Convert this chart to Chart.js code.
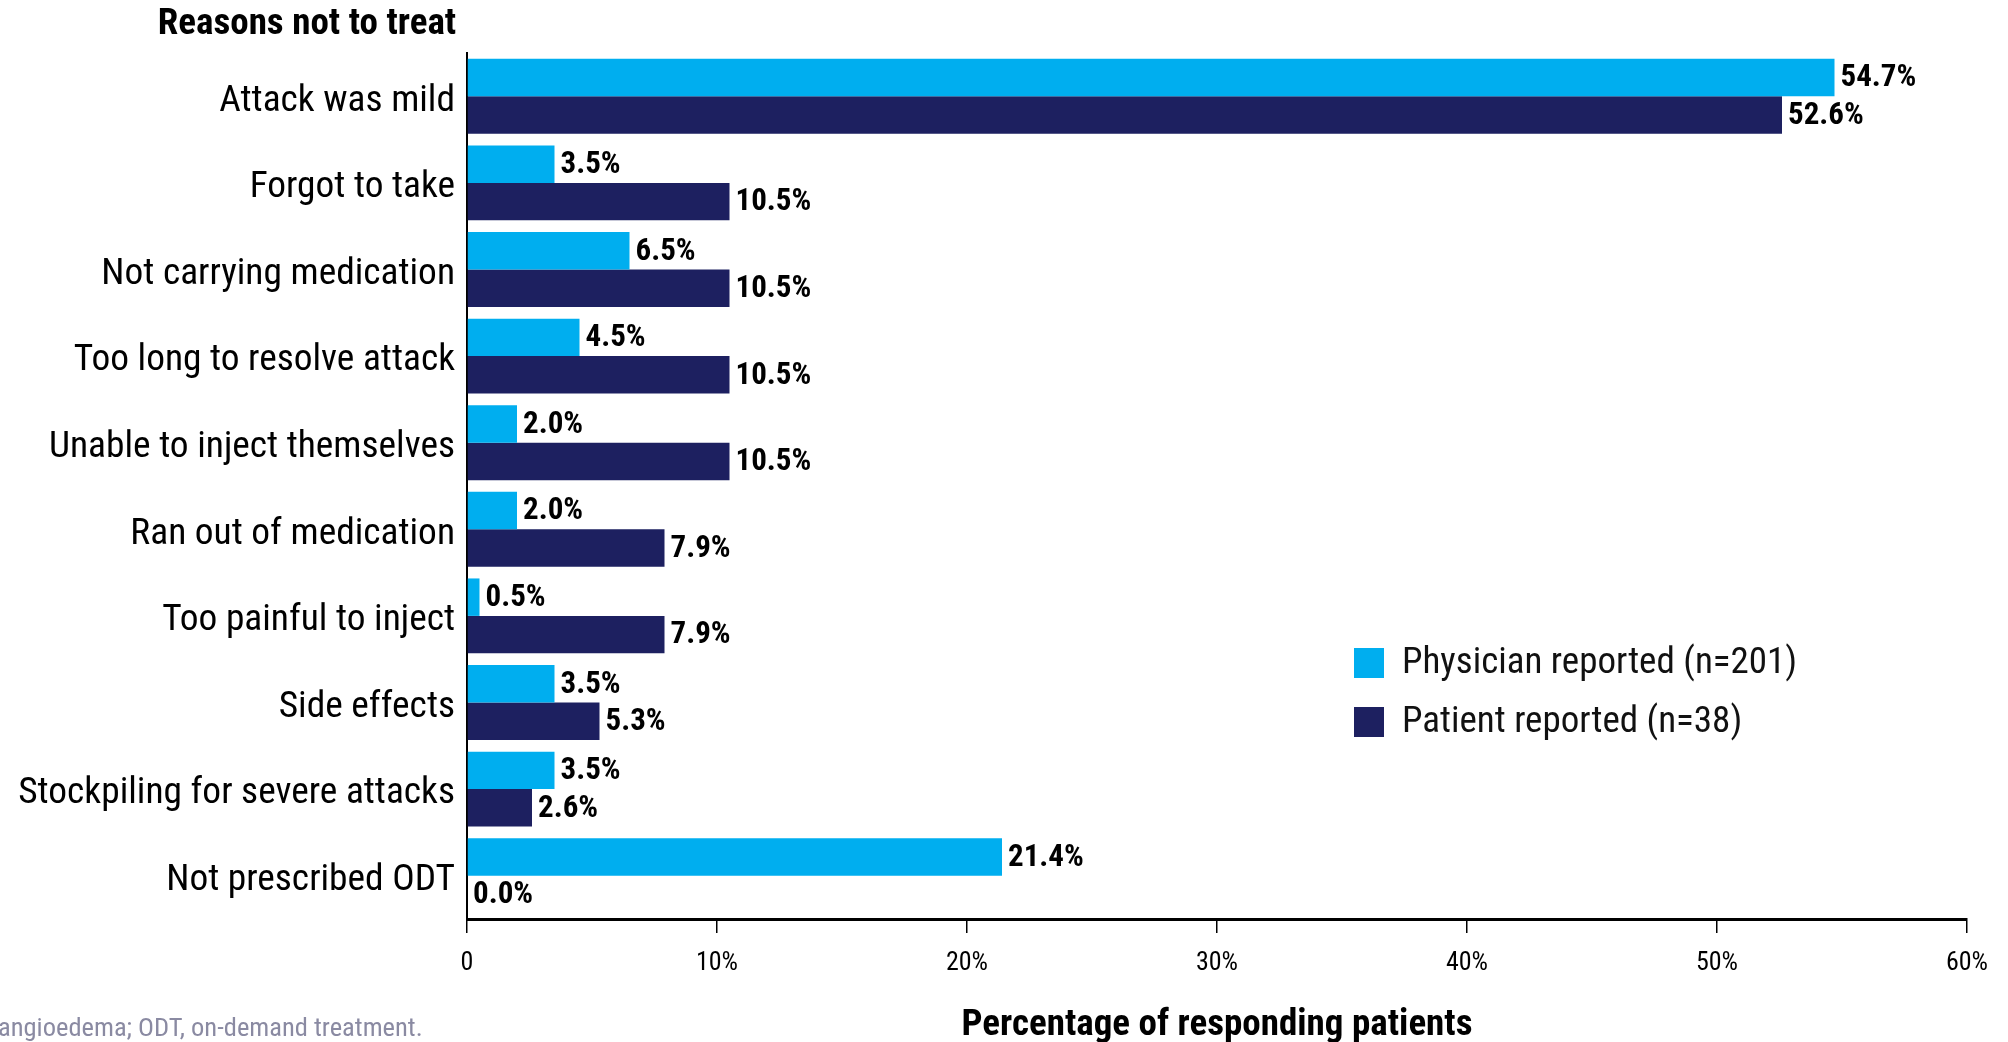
<!DOCTYPE html>
<html lang="en">
<head>
  <meta charset="UTF-8">
  <title>Reasons not to treat</title>
  <style>
    body { margin: 0; background: #ffffff; }
    #chartContainer { position: relative; width: 2008px; height: 1042px; }
  </style>
  <script src="https://cdn.jsdelivr.net/npm/chart.js"></script>
</head>
<body>
  <div id="chartContainer">
    <canvas id="chartCanvas"></canvas>
  </div>
  <script>
    // chart data
    const categories = [
      'Attack was mild', 'Forgot to take', 'Not carrying medication',
      'Too long to resolve attack', 'Unable to inject themselves',
      'Ran out of medication', 'Too painful to inject', 'Side effects',
      'Stockpiling for severe attacks', 'Not prescribed ODT'
    ];
    const physicianValues = [54.7, 3.5, 6.5, 4.5, 2.0, 2.0, 0.5, 3.5, 3.5, 21.4];
    const patientValues = [52.6, 10.5, 10.5, 10.5, 10.5, 7.9, 7.9, 5.3, 2.6, 0.0];
    const seriesNames = ['Physician reported (n=201)', 'Patient reported (n=38)'];
    const xTicks = [0, 10, 20, 30, 40, 50, 60];

    const FONT = "'Roboto Condensed', 'Liberation Sans Narrow', 'Arial Narrow', 'DejaVu Sans Condensed', Roboto, sans-serif";

    // value labels at the end of each bar
    const barLabels = {
      id: 'barLabels',
      afterDatasetsDraw(chart) {
        const ctx = chart.ctx;
        ctx.save();
        ctx.font = 'bold 31px ' + FONT;
        ctx.fillStyle = '#000';
        ctx.textAlign = 'left';
        ctx.textBaseline = 'middle';
        chart.data.datasets.forEach((ds, i) => {
          chart.getDatasetMeta(i).data.forEach((bar, j) => {
            ctx.fillText(ds.data[j].toFixed(1) + '%', bar.x + 6, bar.y + 1);
          });
        });
        ctx.restore();
      }
    };

    // title, axis title, footnote and legend
    const extras = {
      id: 'extras',
      afterDraw(chart) {
        const ctx = chart.ctx;
        const area = chart.chartArea;
        ctx.save();
        ctx.fillStyle = '#000';
        ctx.textBaseline = 'middle';

        ctx.font = 'bold 37px ' + FONT;
        ctx.textAlign = 'center';
        ctx.fillText('Reasons not to treat', 307, 25);
        ctx.fillText('Percentage of responding patients', (area.left + area.right) / 2, 1026);

        ctx.font = '26.5px ' + FONT;
        ctx.textAlign = 'left';
        ctx.fillStyle = '#8a8aa2';
        ctx.fillText('angioedema; ODT, on-demand treatment.', -2, 1029);

        // legend
        const rows = [663, 722];
        ctx.font = '37px ' + FONT;
        chart.data.datasets.forEach((ds, i) => {
          ctx.fillStyle = ds.backgroundColor;
          ctx.fillRect(1354, rows[i] - 15, 30, 30);
          ctx.fillStyle = '#111';
          ctx.fillText(ds.label, 1402, rows[i] + 1);
        });
        ctx.restore();
      }
    };

    const ctx = document.getElementById('chartCanvas').getContext('2d');
    new Chart(ctx, {
      type: 'bar',
      data: {
        labels: categories,
        datasets: [
          {
            label: seriesNames[0],
            data: physicianValues,
            backgroundColor: '#00aeef',
            categoryPercentage: 0.865,
            barPercentage: 1.0
          },
          {
            label: seriesNames[1],
            data: patientValues,
            backgroundColor: '#1d2060',
            categoryPercentage: 0.865,
            barPercentage: 1.0
          }
        ]
      },
      plugins: [barLabels, extras],
      options: {
        indexAxis: 'y',
        responsive: true,
        maintainAspectRatio: false,
        animation: false,
        layout: { padding: { top: 53, right: 41, left: 0, bottom: 0 } },
        plugins: {
          legend: { display: false },
          title: { display: false },
          tooltip: { enabled: false }
        },
        scales: {
          x: {
            min: 0,
            max: 60,
            afterBuildTicks(scale) {
              scale.ticks = xTicks.map(v => ({ value: v }));
            },
            afterFit(scale) { scale.height = 123; },
            border: { display: true, color: '#000', width: 3 },
            grid: { drawOnChartArea: false, drawTicks: true, tickLength: 14, color: '#000', lineWidth: 1.5 },
            ticks: {
              color: '#000',
              padding: 15,
              font: { family: FONT, size: 26 },
              callback: v => v === 0 ? '0' : v + '%'
            }
          },
          y: {
            afterFit(scale) { scale.width = 467; },
            border: { display: true, color: '#000', width: 2 },
            grid: { display: false },
            ticks: {
              color: '#000',
              padding: 4,
              labelOffset: 5,
              font: { family: FONT, size: 37.4 }
            }
          }
        }
      }
    });
  </script>
</body>
</html>
